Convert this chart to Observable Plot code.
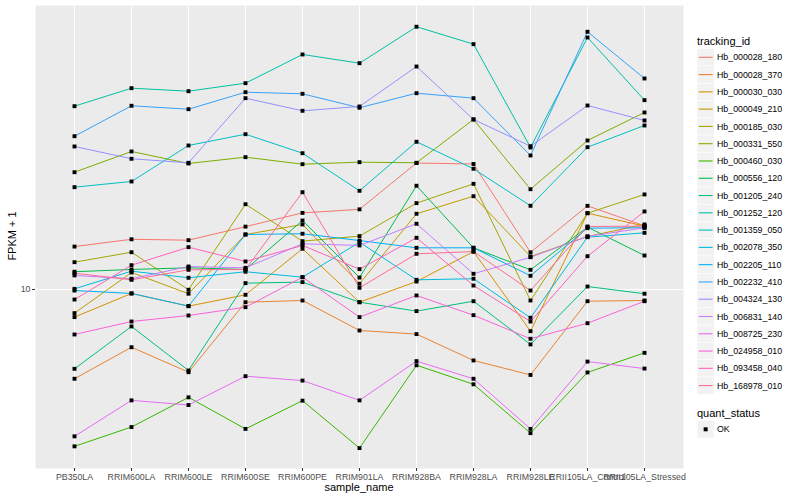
<!DOCTYPE html>
<html><head><meta charset="utf-8">
<script src="https://cdn.jsdelivr.net/npm/d3@7"></script>
<script src="https://cdn.jsdelivr.net/npm/@observablehq/plot@0.6"></script>
<style>
body{margin:0;background:#fff;font-family:"Liberation Sans",Arial,Helvetica,sans-serif;}
#wrap{position:relative;width:800px;height:500px;overflow:hidden;}
#wrap svg{position:absolute;left:0;top:0;}
.lab{position:absolute;white-space:nowrap;}
</style></head><body><div id="wrap"></div>
<script>
const samples = ["PB350LA","RRIM600LA","RRIM600LE","RRIM600SE","RRIM600PE","RRIM901LA","RRIM928BA","RRIM928LA","RRIM928LE","RRII105LA_Control","RRII105LA_Stressed"];
const trackingIds = ["Hb_000028_180","Hb_000028_370","Hb_000030_030","Hb_000049_210","Hb_000185_030","Hb_000331_550","Hb_000460_030","Hb_000556_120","Hb_001205_240","Hb_001252_120","Hb_001359_050","Hb_002078_350","Hb_002205_110","Hb_002232_410","Hb_004324_130","Hb_006831_140","Hb_008725_230","Hb_024958_010","Hb_093458_040","Hb_168978_010"];
const palette = ["#F8766D","#EA8331","#D89000","#C09B00","#A3A500","#7CAE00","#39B600","#00BB4E","#00BF7D","#00C1A3","#00BFC4","#00BAE0","#00B0F6","#35A2FF","#9590FF","#C77CFF","#E76BF3","#FA62DB","#FF62BC","#FF6C91"];

// FPKM + 1 per sample (same order as samples)
const Hb_000028_180 = [13.9,14.7,14.6,16.2,18.0,18.5,26.4,26.2,13.3,19.0,16.3];
const Hb_000028_370 = [5.04,6.42,5.30,9.07,9.19,7.30,7.10,5.80,5.19,9.14,9.19];
const Hb_000030_030 = [8.09,9.70,8.80,9.60,13.67,9.07,10.63,13.38,7.26,17.96,16.26];
const Hb_000049_210 = [8.34,11.39,9.68,15.25,16.47,10.45,17.88,20.46,12.88,15.02,16.47];
const Hb_000185_030 = [12.33,13.31,9.98,19.24,14.49,15.06,19.40,22.50,9.19,17.96,20.74];
const Hb_000331_550 = [24.60,28.84,26.30,27.61,26.16,26.57,26.44,36.88,21.59,31.38,38.90];
const Hb_000460_030 = [3.00,3.48,4.37,3.43,4.26,2.96,5.59,4.83,3.32,5.29,6.15];
const Hb_000556_120 = [11.46,11.66,11.81,11.66,16.98,10.96,22.17,13.77,11.63,16.14,12.98];
const Hb_001205_240 = [5.44,7.53,5.37,10.50,10.58,9.07,8.47,9.14,6.56,10.23,9.68];
const Hb_001252_120 = [40.83,46.88,45.81,48.72,60.72,56.79,75.13,65.73,29.74,69.18,42.76];
const Hb_001359_050 = [21.93,22.91,30.20,32.93,28.46,21.33,31.07,25.26,19.01,29.81,35.21];
const Hb_002078_350 = [10.05,11.51,10.94,11.46,10.99,14.38,10.77,10.86,8.05,14.94,15.45];
const Hb_002205_110 = [9.92,9.70,8.80,15.25,15.34,14.56,13.77,13.77,11.11,16.01,16.06];
const Hb_002232_410 = [32.43,40.96,39.90,45.46,44.90,40.34,45.11,43.42,27.97,72.28,50.50];
const Hb_004324_130 = [29.97,27.27,26.44,43.42,39.41,40.74,55.37,36.88,30.04,41.05,36.59];
const Hb_006831_140 = [11.14,10.86,11.93,11.81,14.20,14.02,16.56,11.28,12.81,15.02,16.06];
const Hb_008725_230 = [3.24,4.27,4.12,5.14,4.97,4.27,5.77,5.04,3.43,5.75,5.45];
const Hb_024958_010 = [7.08,7.82,8.19,8.73,10.99,8.09,9.55,8.21,6.85,7.72,9.14];
const Hb_093458_040 = [9.26,12.05,13.84,12.40,14.02,11.69,14.87,10.31,7.82,12.91,18.20];
const Hb_168978_010 = [11.33,10.77,11.63,11.66,21.10,10.13,13.15,13.38,9.92,16.22,16.26];

const series = [Hb_000028_180,Hb_000028_370,Hb_000030_030,Hb_000049_210,Hb_000185_030,Hb_000331_550,Hb_000460_030,Hb_000556_120,Hb_001205_240,Hb_001252_120,Hb_001359_050,Hb_002078_350,Hb_002205_110,Hb_002232_410,Hb_004324_130,Hb_006831_140,Hb_008725_230,Hb_024958_010,Hb_093458_040,Hb_168978_010];
const yTicks = [10];
const quantStatus = ["OK"];

const rows = [];
trackingIds.forEach((id, i) => series[i].forEach((v, j) => rows.push({id, sample: samples[j], value: v, status: "OK"})));

const chart = Plot.plot({
  width: 800, height: 500,
  marginLeft: 35, marginRight: 117, marginTop: 5, marginBottom: 32,
  style: {fontFamily: "Liberation Sans, Arial, sans-serif", background: "transparent", overflow: "visible"},
  x: {type: "point", domain: samples, padding: 0.6, label: null},
  y: {type: "log", domain: [2.531, 88.43], label: null},
  color: {domain: trackingIds, range: palette},
  marks: [
    Plot.frame({fill: "#EBEBEB", stroke: null}),
    Plot.gridX({stroke: "#FFFFFF", strokeOpacity: 1, strokeWidth: 1.1}),
    Plot.gridY({ticks: yTicks, stroke: "#FFFFFF", strokeOpacity: 1, strokeWidth: 1.1}),
    Plot.axisX({tickSize: 3, tickPadding: 2, fontSize: 8.8, stroke: "#333333", fill: "#4D4D4D", label: null}),
    Plot.axisY({ticks: yTicks, tickFormat: d => String(d), tickSize: 3, tickPadding: 2, fontSize: 8.8, stroke: "#333333", fill: "#4D4D4D", label: null}),
    Plot.line(rows, {x: "sample", y: "value", z: "id", stroke: "id", strokeWidth: 1}),
    Plot.dot(rows, {x: "sample", y: "value", symbol: "square", fill: "#000000", stroke: null, r: 2.2})
  ]
});
const wrap = document.getElementById("wrap");
wrap.appendChild(chart);

function lab(text, css) {
  const d = document.createElement("div");
  d.className = "lab";
  d.textContent = text;
  Object.assign(d.style, css);
  wrap.appendChild(d);
  return d;
}
// axis titles
lab("sample_name", {left: "309px", width: "100px", textAlign: "center", top: "481px", fontSize: "11px", color: "#000"});
lab("FPKM + 1", {left: "-38px", width: "100px", textAlign: "center", top: "230px", fontSize: "11px", color: "#000", transform: "rotate(-90deg)"});

// legend (separate svg overlay)
const keyH = 17.28;
const leg = d3.create("svg").attr("width", 800).attr("height", 500)
  .style("font-family", "Liberation Sans, Arial, sans-serif").style("pointer-events", "none");
leg.append("text").attr("x", 697).attr("y", 44.5).attr("font-size", 11).attr("fill", "#000").text("tracking_id");
trackingIds.forEach((id, i) => {
  const cy = 57.3 + i * keyH;
  leg.append("rect").attr("x", 697).attr("y", cy - keyH / 2).attr("width", keyH).attr("height", keyH)
    .attr("fill", "#F2F2F2").attr("stroke", "#FFFFFF").attr("stroke-width", 0.5);
  leg.append("line").attr("x1", 698.7).attr("x2", 712.6).attr("y1", cy).attr("y2", cy)
    .attr("stroke", palette[i]).attr("stroke-width", 1.1);
  leg.append("text").attr("x", 717).attr("y", cy + 3.1).attr("font-size", 8.8).attr("fill", "#000").text(id);
});
leg.append("text").attr("x", 697).attr("y", 416.5).attr("font-size", 11).attr("fill", "#000").text("quant_status");
quantStatus.forEach((s, i) => {
  const cy = 429.3 + i * keyH;
  leg.append("rect").attr("x", 697).attr("y", cy - keyH / 2).attr("width", keyH).attr("height", keyH)
    .attr("fill", "#F2F2F2").attr("stroke", "#FFFFFF").attr("stroke-width", 0.5);
  leg.append("rect").attr("x", 697 + keyH / 2 - 2).attr("y", cy - 2).attr("width", 4).attr("height", 4).attr("fill", "#000");
  leg.append("text").attr("x", 717).attr("y", cy + 3.1).attr("font-size", 8.8).attr("fill", "#000").text(s);
});
wrap.appendChild(leg.node());
</script>
</body></html>
